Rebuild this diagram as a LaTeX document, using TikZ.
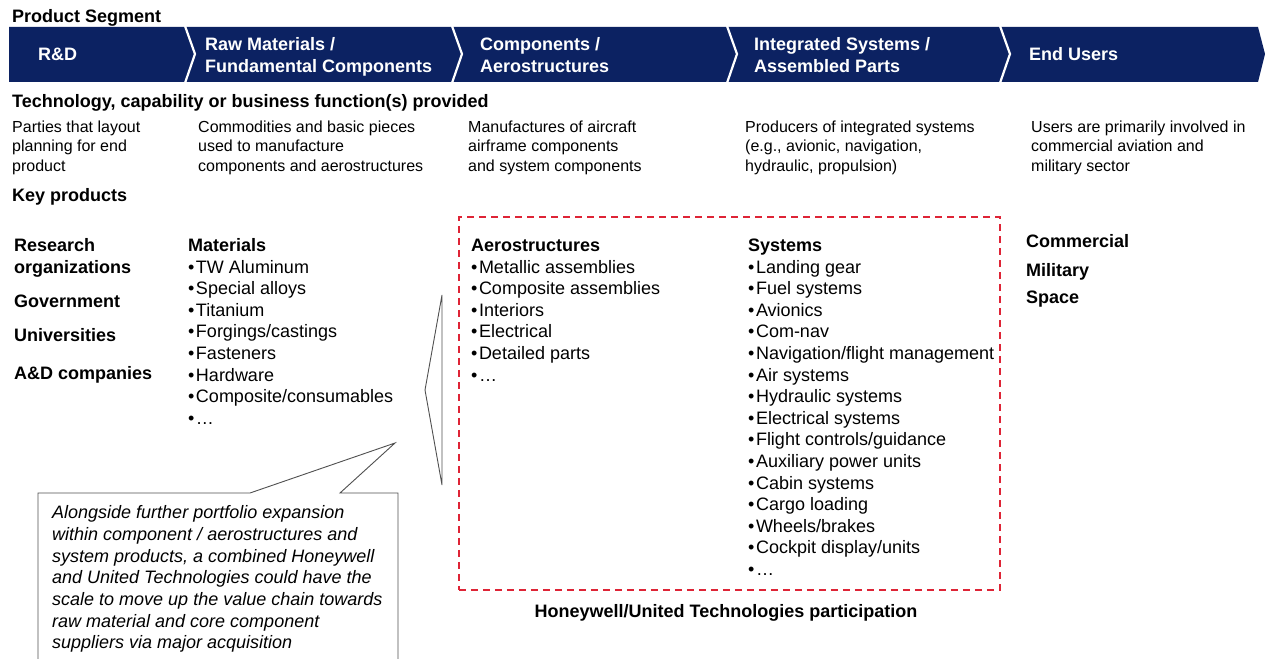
\documentclass[tikz,border=0pt]{standalone}
\usepackage{fontspec}
\setmainfont{Liberation Sans}
\usepackage{tikz}
\usetikzlibrary{positioning}
\usepackage{xcolor}
\definecolor{ColWhite}{RGB}{255,255,255}
\definecolor{ColNavy}{RGB}{12,34,98}
\definecolor{ColRed}{RGB}{222,36,54}
\definecolor{ColGray}{RGB}{80,80,80}
\newcommand{\Bul}{\textbullet\hspace{1.5pt}}
\tikzstyle{TextBand}=[anchor=base west,inner sep=0pt,text=ColWhite,font=\fontsize{18}{22}\selectfont\bfseries]
\tikzstyle{TextHead}=[anchor=base west,inner sep=0pt,font=\fontsize{18}{22}\selectfont\bfseries]
\tikzstyle{TextDesc}=[anchor=base west,inner sep=0pt,font=\fontsize{16}{20}\selectfont]
\tikzstyle{TextItem}=[anchor=base west,inner sep=0pt,font=\fontsize{18}{22}\selectfont]
\tikzstyle{TextNote}=[anchor=base west,inner sep=0pt,font=\fontsize{18}{22}\selectfont\itshape]
\tikzstyle{PartBox}=[draw=ColRed,line width=1.8pt,dash pattern=on 7pt off 5pt,inner sep=0pt,anchor=north west]
\tikzstyle{CallLine}=[draw=ColGray,line width=0.9pt,line join=miter]

\begin{document}
\begin{tikzpicture}[x=1pt,y=-1pt]
    \useasboundingbox(0,0)rectangle(1265,658);
    % segment band
    \node[TextHead](seg)at(12,23){Product Segment};
    \fill[ColNavy](9,27)--(1258,27)--(1265,54)--(1258,82)--(9,82)--cycle;
    \foreach \x in {185,452,727,1000}
        \draw[ColWhite,line width=2.2pt](\x,26)--(\x+10,54)--(\x,83);
    \node[TextBand](rd)at(38,61){R\&D};
    \node[TextBand](raw1)at(205,51){Raw Materials /};
    \node[TextBand](raw2)at(205,73){Fundamental Components};
    \node[TextBand](cmp1)at(480,51){Components /};
    \node[TextBand](cmp2)at(480,73){Aerostructures};
    \node[TextBand](int1)at(754,51){Integrated Systems /};
    \node[TextBand](int2)at(754,73){Assembled Parts};
    \node[TextBand](end)at(1029,61){End Users};
    % functions
    \node[TextHead](tech)at(12,107){Technology, capability or business function(s) provided};
    \foreach \x/\la/\lb/\lc [count=\i] in {
        12/Parties that layout/planning for end/product,
        198/Commodities and basic pieces/used to manufacture/components and aerostructures,
        468/Manufactures of aircraft/airframe components/and system components,
        745/Producers of integrated systems/{(e.g., avionic, navigation,}/{hydraulic, propulsion)},
        1031/Users are primarily involved in/commercial aviation and/military sector}
    {
        \node[TextDesc](desc\i-1)at(\x,132){\la};
        \node[TextDesc](desc\i-2)at(\x,151.7){\lb};
        \node[TextDesc](desc\i-3)at(\x,171.4){\lc};
    }
    % key products
    \node[TextHead](key)at(12,201.5){Key products};
    \node[TextHead](res1)at(14,251){Research};
    \node[TextHead](res2)at(14,273){organizations};
    \node[TextHead](gov)at(14,307){Government};
    \node[TextHead](uni)at(14,341){Universities};
    \node[TextHead](adc)at(14,379){A\&D companies};
    \node[TextHead](mat)at(188,251){Materials};
    \foreach \t [count=\i] in {TW Aluminum,Special alloys,Titanium,Forgings/castings,
        Fasteners,Hardware,Composite/consumables,…}
        \node[TextItem](mat\i)at(188,251.4+21.6*\i){\Bul\t};
    \node[TextHead](aer)at(471,251){Aerostructures};
    \foreach \t [count=\i] in {Metallic assemblies,Composite assemblies,Interiors,
        Electrical,Detailed parts,…}
        \node[TextItem](aer\i)at(471,251.4+21.6*\i){\Bul\t};
    \node[TextHead](sys)at(748,251){Systems};
    \foreach \t [count=\i] in {Landing gear,Fuel systems,Avionics,Com-nav,
        Navigation/flight management,Air systems,Hydraulic systems,Electrical systems,
        Flight controls/guidance,Auxiliary power units,Cabin systems,Cargo loading,
        Wheels/brakes,Cockpit display/units,…}
        \node[TextItem](sys\i)at(748,251.4+21.6*\i){\Bul\t};
    \node[TextHead](com)at(1026,247){Commercial};
    \node[TextHead](mil)at(1026,276){Military};
    \node[TextHead](spa)at(1026,303){Space};
    % participation frame
    \node[PartBox,minimum width=541,minimum height=373](part)at(458,216){};
    \node[TextHead,anchor=base](partlbl)at(726,617.5){Honeywell/United Technologies participation};
    % callouts
    \draw[CallLine](442,295)--(425,390)--(442,485)--cycle;
    \draw[CallLine,fill=ColWhite](38,670)--(38,493)--(250,493)--(395,443)--(340,493)--(398,493)--(398,670);
    \foreach \t [count=\i] in {Alongside further portfolio expansion,
        within component / aerostructures and,
        {system products, a combined Honeywell},
        and United Technologies could have the,
        scale to move up the value chain towards,
        raw material and core component,
        suppliers via major acquisition}
        \node[TextNote](note\i)at(52,497+21.7*\i){\t};
\end{tikzpicture}
\end{document}
